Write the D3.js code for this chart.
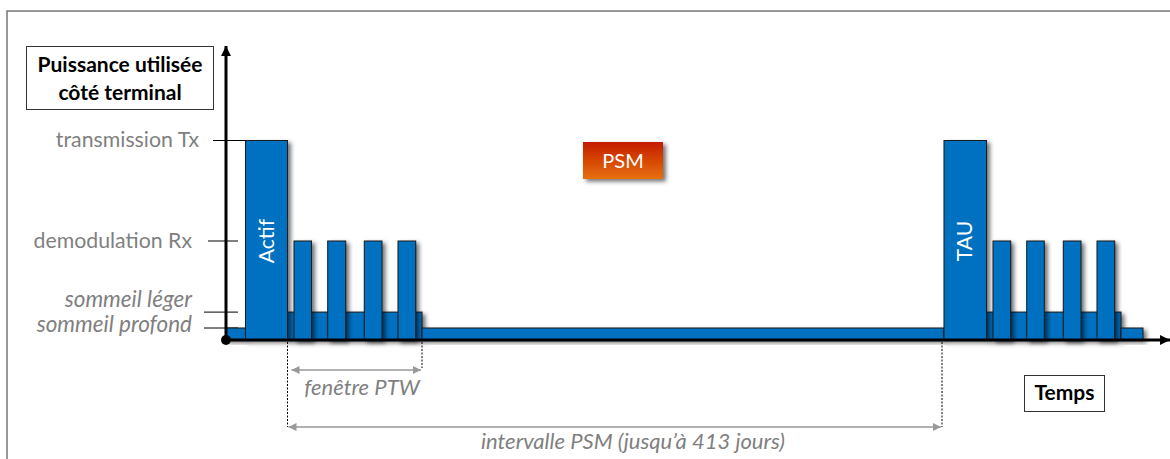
<!DOCTYPE html>
<html>
<head>
<meta charset="utf-8">
<script src="https://cdn.jsdelivr.net/npm/d3@7"></script>
<style>
  body { margin: 0; background: #fff; }
  svg { display: block; font-family: Lato, "Open Sans", sans-serif; }
</style>
</head>
<body>
<div class="chart"></div>
<script>
// Power levels of the device (arbitrary units)
var levelNames = ["sommeil profond", "sommeil léger", "demodulation Rx", "transmission Tx"];
var levelItalic = [true, true, false, false];
var levelValues = [4, 9.3, 33, 66.5];

// Base segments on the time line (time units from the origin)
var segStart = [0, 19.5, 61.5, 196, 718, 760.5, 895];
var segEnd   = [19.5, 61.5, 196, 718, 760.5, 895, 917];
var segLevel = [0, 3, 1, 0, 3, 1, 0];
var segLabel = ["", "Actif", "", "", "TAU", "", ""];

// Short reception bursts inside the PTW windows
var rxStart = [68, 101.7, 138.3, 172, 767, 800.7, 837.3, 871];
var rxEnd   = [85.5, 119.7, 156, 189.7, 784.7, 818.3, 855, 888.7];

// Annotated intervals
var spanNames = ["fenêtre PTW", "intervalle PSM (jusqu’à 413 jours)"];
var spanStart = [61.5, 61.5];
var spanEnd   = [196, 716];

var W = 1170, H = 459;
var svg = d3.select(".chart").append("svg")
    .attr("width", W)
    .attr("height", H);

var x = d3.scaleLinear().domain([0, 944]).range([226, 1170]);
var y = d3.scaleLinear().domain([0, 100]).range([340, 40]);

var defs = svg.append("defs");
var shadow = defs.append("filter").attr("id", "shadow")
    .attr("x", "-20%").attr("y", "-20%").attr("width", "160%").attr("height", "160%");
shadow.append("feDropShadow")
    .attr("dx", 3).attr("dy", 2.5).attr("stdDeviation", 2)
    .attr("flood-color", "#000").attr("flood-opacity", 0.55);

var grad = defs.append("linearGradient").attr("id", "psmGrad")
    .attr("x1", 0).attr("y1", 0).attr("x2", 0).attr("y2", 1);
grad.append("stop").attr("offset", "0%").attr("stop-color", "#c41c00");
grad.append("stop").attr("offset", "100%").attr("stop-color", "#e8700a");

function arrowMarker(id, color, w, h) {
  defs.append("marker").attr("id", id)
      .attr("viewBox", "0 0 10 10").attr("refX", 10).attr("refY", 5)
      .attr("markerWidth", w).attr("markerHeight", h)
      .attr("markerUnits", "userSpaceOnUse")
      .attr("orient", "auto-start-reverse")
    .append("path").attr("d", "M0,0L10,5L0,10Z").attr("fill", color);
}
arrowMarker("axisArrow", "#000", 10, 10);
arrowMarker("grayArrow", "#999", 9, 8);

// outer frame (goes past the window on the right and bottom)
svg.append("rect")
    .attr("x", 7).attr("y", 11).attr("width", W + 20).attr("height", H + 20)
    .attr("fill", "none").attr("stroke", "#777").attr("stroke-width", 1.5);

// level ticks and labels
var labelShift = [4, -5, 7, 6.5];
svg.selectAll(".tick-line")
    .data(levelValues)
    .enter().append("line")
    .attr("class", "tick-line")
    .attr("x1", function(d, i) { return i < 2 ? 204 : (i == 2 ? 208 : 213); })
    .attr("x2", function(d, i) { return i == 3 ? x(19.5) : 238; })
    .attr("y1", function(d) { return y(d); })
    .attr("y2", function(d) { return y(d); })
    .attr("stroke", "#000").attr("stroke-width", 1);

svg.selectAll(".level-label")
    .data(levelNames)
    .enter().append("text")
    .attr("class", "level-label")
    .text(function(d) { return d; })
    .attr("x", function(d, i) { return i == 3 ? 199 : 192; })
    .attr("y", function(d, i) { return y(levelValues[i]) + labelShift[i]; })
    .attr("text-anchor", "end")
    .attr("font-size", function(d, i) { return levelItalic[i] ? 22.5 : 21.3; })
    .attr("font-style", function(d, i) { return levelItalic[i] ? "italic" : "normal"; })
    .attr("fill", "#7f7f7f");

// base segments
var segs = svg.selectAll(".seg")
    .data(segStart)
    .enter().append("rect")
    .attr("class", "seg")
    .attr("x", function(d) { return x(d); })
    .attr("width", function(d, i) { return x(segEnd[i]) - x(d); })
    .attr("y", function(d, i) { return y(levelValues[segLevel[i]]); })
    .attr("height", function(d, i) { return y(0) - y(levelValues[segLevel[i]]); })
    .attr("fill", "#0070c0")
    .attr("stroke", "#1a1a1a").attr("stroke-width", 1)
    .attr("filter", "url(#shadow)");
// tall bars on top so their shadow falls on the low ones
segs.filter(function(d, i) { return segLevel[i] == 3; }).raise();

svg.selectAll(".rx")
    .data(rxStart)
    .enter().append("rect")
    .attr("class", "rx")
    .attr("x", function(d) { return x(d); })
    .attr("width", function(d, i) { return x(rxEnd[i]) - x(d); })
    .attr("y", y(levelValues[2]))
    .attr("height", y(0) - y(levelValues[2]))
    .attr("fill", "#0070c0")
    .attr("stroke", "#1a1a1a").attr("stroke-width", 1)
    .attr("filter", "url(#shadow)");

// rotated labels in the tall bars
svg.selectAll(".bar-label")
    .data(segLabel.map(function(d, i) { return i; }).filter(function(i) { return segLabel[i]; }))
    .enter().append("text")
    .attr("class", "bar-label")
    .text(function(i) { return segLabel[i]; })
    .attr("transform", function(i) {
      return "translate(" + (x((segStart[i] + segEnd[i]) / 2) + 7) + "," + y(33) + ") rotate(-90)";
    })
    .attr("text-anchor", "middle")
    .attr("font-size", 21)
    .attr("fill", "#fff");

// axes
svg.append("line")
    .attr("x1", x(0)).attr("y1", y(0)).attr("x2", x(0)).attr("y2", 46)
    .attr("stroke", "#000").attr("stroke-width", 3)
    .attr("marker-end", "url(#axisArrow)");
svg.append("line")
    .attr("x1", x(0)).attr("y1", y(0)).attr("x2", W).attr("y2", y(0))
    .attr("stroke", "#000").attr("stroke-width", 3)
    .attr("marker-end", "url(#axisArrow)");
svg.append("circle").attr("cx", x(0)).attr("cy", y(0)).attr("r", 5).attr("fill", "#000");

// dotted guides
var guideX = [61.5, 196, 716];
var guideEnd = [427, 368, 427];
svg.selectAll(".guide")
    .data(guideX)
    .enter().append("line")
    .attr("class", "guide")
    .attr("x1", function(d) { return x(d); })
    .attr("x2", function(d) { return x(d); })
    .attr("y1", y(0) + 2)
    .attr("y2", function(d, i) { return guideEnd[i]; })
    .attr("stroke", "#000").attr("stroke-width", 1)
    .attr("stroke-dasharray", "2,1.5");

// interval arrows
var spanY = [370, 427];
var spanTextY = [395, 449];
svg.selectAll(".span")
    .data(spanStart)
    .enter().append("line")
    .attr("class", "span")
    .attr("x1", function(d, i) { return x(d) + (i == 0 ? 4 : 1); })
    .attr("x2", function(d, i) { return x(spanEnd[i]) - 1; })
    .attr("y1", function(d, i) { return spanY[i]; })
    .attr("y2", function(d, i) { return spanY[i]; })
    .attr("stroke", "#999").attr("stroke-width", 1.5)
    .attr("marker-start", "url(#grayArrow)")
    .attr("marker-end", "url(#grayArrow)");
svg.selectAll(".span-label")
    .data(spanNames)
    .enter().append("text")
    .attr("class", "span-label")
    .text(function(d) { return d; })
    .attr("x", function(d, i) { return i == 0 ? 362 : 633; })
    .attr("y", function(d, i) { return spanTextY[i]; })
    .attr("text-anchor", "middle")
    .attr("font-size", 22).attr("font-style", "italic")
    .attr("fill", "#7f7f7f");

// y title box
svg.append("rect")
    .attr("x", 26.5).attr("y", 46.5).attr("width", 187).attr("height", 63)
    .attr("fill", "#fff").attr("stroke", "#333").attr("stroke-width", 1);
svg.append("text")
    .attr("x", 120).attr("y", 72).attr("text-anchor", "middle")
    .attr("font-size", 21).attr("font-weight", "bold").attr("fill", "#000")
    .selectAll("tspan")
    .data(["Puissance utilisée", "côté terminal"])
    .enter().append("tspan")
    .attr("x", 120)
    .attr("dy", function(d, i) { return i ? 28 : 0; })
    .text(function(d) { return d; });

// x title box
svg.append("rect")
    .attr("x", 1024.5).attr("y", 375.5).attr("width", 80).attr("height", 36)
    .attr("fill", "#fff").attr("stroke", "#333").attr("stroke-width", 1);
svg.append("text")
    .attr("x", 1064.5).attr("y", 400).attr("text-anchor", "middle")
    .attr("font-size", 21).attr("font-weight", "bold").attr("fill", "#000")
    .text("Temps");

// PSM tag
svg.append("rect")
    .attr("x", 583).attr("y", 142).attr("width", 80).attr("height", 37)
    .attr("fill", "url(#psmGrad)")
    .attr("filter", "url(#shadow)");
svg.append("text")
    .attr("x", 623).attr("y", 167.5).attr("text-anchor", "middle")
    .attr("font-size", 20).attr("fill", "#fff")
    .text("PSM");
</script>
</body>
</html>
